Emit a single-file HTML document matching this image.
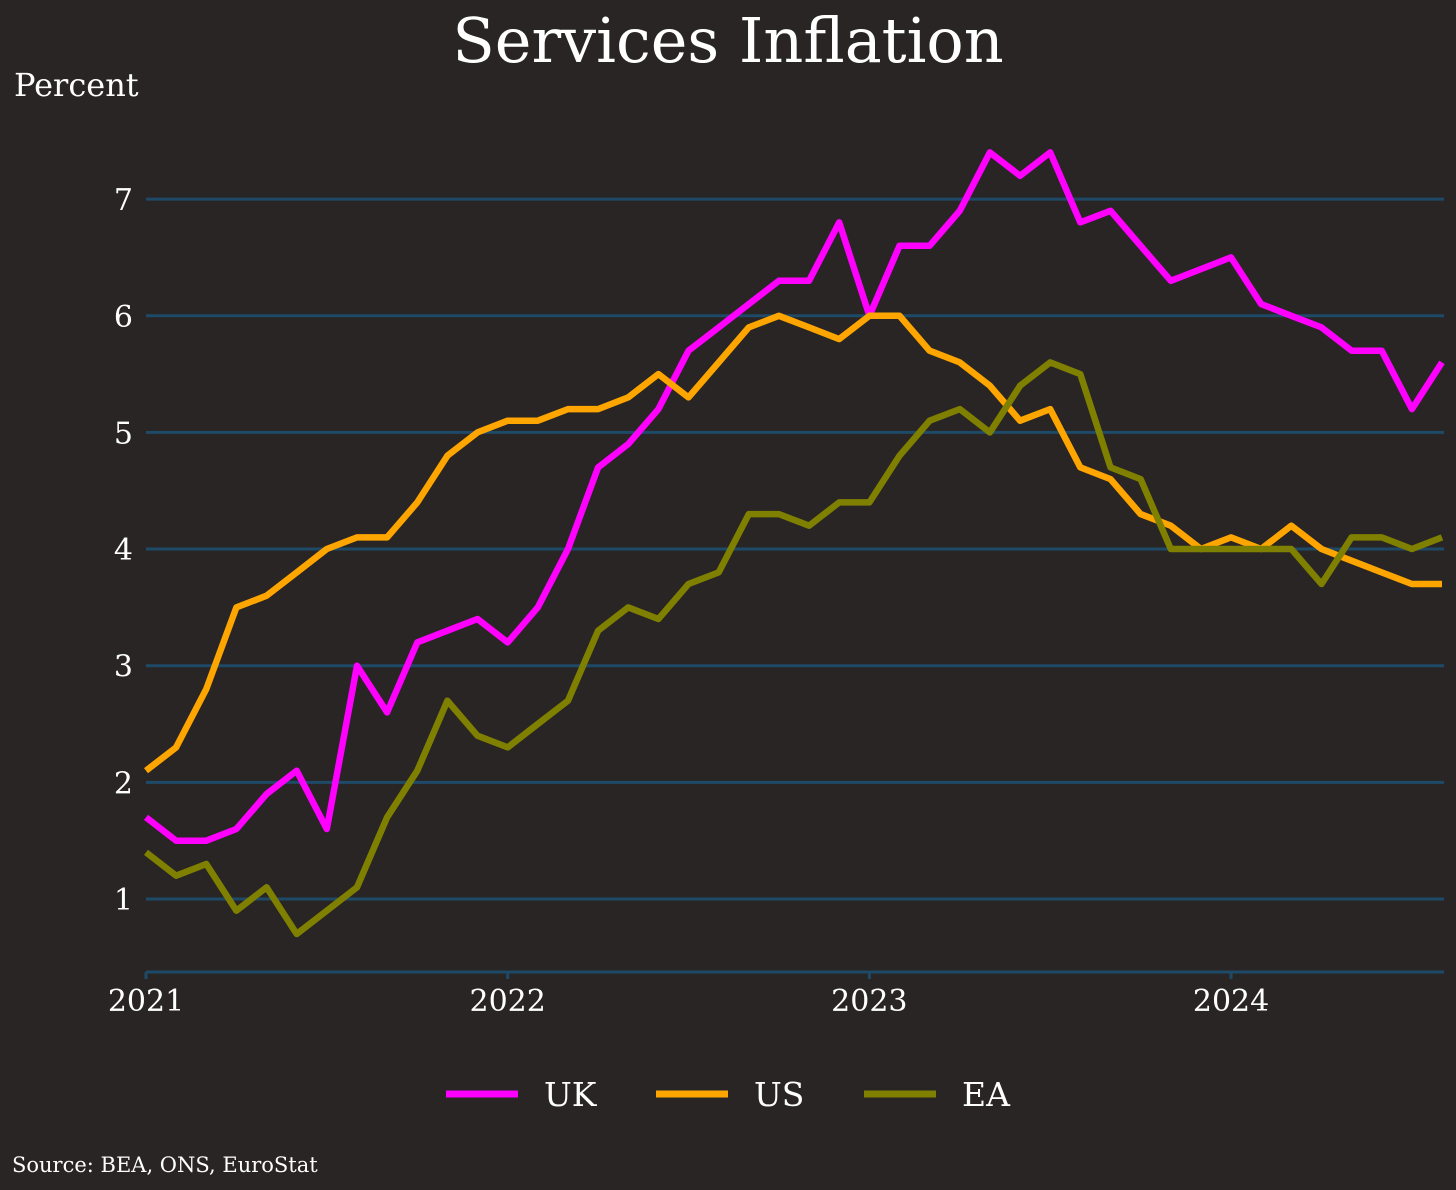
<!DOCTYPE html>
<html><head><meta charset="utf-8"><style>
html,body{margin:0;padding:0;background:#282524;}
svg{display:block;font-family:"DejaVu Serif","Liberation Serif",serif;}
</style></head><body>
<svg width="1456" height="1190" viewBox="0 0 1456 1190">
<rect width="1456" height="1190" fill="#282524"/>
<text x="728" y="62" text-anchor="middle" fill="#fff" font-size="62">Services Inflation</text>
<text x="14" y="96" fill="#fff" font-size="32">Percent</text>
<g id="grid"></g><g id="xaxis"></g><g id="lines"></g>
<g id="legend"></g>
<text x="12" y="1172" fill="#fff" font-size="21">Source: BEA, ONS, EuroStat</text>
</svg>
<script>
const yTicks=[1,2,3,4,5,6,7];
const xTickLabels=["2021","2022","2023","2024"];
const seriesNames=["UK","US","EA"];
const uk=[1.7,1.5,1.5,1.6,1.9,2.1,1.6,3.0,2.6,3.2,3.3,3.4,3.2,3.5,4.0,4.7,4.9,5.2,5.7,5.9,6.1,6.3,6.3,6.8,6.0,6.6,6.6,6.9,7.4,7.2,7.4,6.8,6.9,6.6,6.3,6.4,6.5,6.1,6.0,5.9,5.7,5.7,5.2,5.6];
const us=[2.1,2.3,2.8,3.5,3.6,3.8,4.0,4.1,4.1,4.4,4.8,5.0,5.1,5.1,5.2,5.2,5.3,5.5,5.3,5.6,5.9,6.0,5.9,5.8,6.0,6.0,5.7,5.6,5.4,5.1,5.2,4.7,4.6,4.3,4.2,4.0,4.1,4.0,4.2,4.0,3.9,3.8,3.7,3.7];
const ea=[1.4,1.2,1.3,0.9,1.1,0.7,0.9,1.1,1.7,2.1,2.7,2.4,2.3,2.5,2.7,3.3,3.5,3.4,3.7,3.8,4.3,4.3,4.2,4.4,4.4,4.8,5.1,5.2,5.0,5.4,5.6,5.5,4.7,4.6,4.0,4.0,4.0,4.0,4.0,3.7,4.1,4.1,4.0,4.1];
const colors=["#ff00ff","#ffa500","#808000"];
const NS="http://www.w3.org/2000/svg";
const x0=146,pxPerMonth=30.14,X0=146,X1=1444,yBase=972;
function xs(i){return x0+i*pxPerMonth;}
function ys(v){return 899-(v-1)*116.65;}
function mk(t,a,p){const e=document.createElementNS(NS,t);for(const k in a)e.setAttribute(k,a[k]);p.appendChild(e);return e;}
const grid=document.getElementById('grid');
yTicks.forEach(v=>{
  const l=mk('line',{x1:X0,x2:X1,y1:ys(v),y2:ys(v),stroke:'#1e4a68','stroke-width':3},grid);
  
  
  const t=mk('text',{x:133,y:ys(v)+11,'text-anchor':'end',fill:'#fff','font-size':30},grid);
  t.textContent=v;
  
  
});
const xa=document.getElementById('xaxis');
const base=mk('line',{x1:X0,x2:X1,y1:yBase,y2:yBase,stroke:'#1e4a68','stroke-width':3},xa);


xTickLabels.forEach((s,k)=>{
  const x=xs(k*12);
  const tk=mk('line',{x1:x,x2:x,y1:yBase,y2:yBase+7,stroke:'#1e4a68','stroke-width':3},xa);
  
  
  const t=mk('text',{x:x,y:1011,'text-anchor':'middle',fill:'#fff','font-size':30},xa);
  t.textContent=s;
  
  
});
const lg=document.getElementById('lines');
[uk,us,ea].forEach((d,k)=>{
  const p=mk('polyline',{points:d.map((v,i)=>xs(i).toFixed(1)+','+ys(v).toFixed(1)).join(' '),fill:'none',stroke:colors[k],'stroke-width':6.5,'stroke-linejoin':'round'},lg);
  
  
});
const leg=document.getElementById('legend');
const legX=[446,656,864];
seriesNames.forEach((n,k)=>{
  const g=mk('g',{},leg);
  
  
  mk('line',{x1:legX[k],x2:legX[k]+72,y1:1094,y2:1094,stroke:colors[k],'stroke-width':7},g);
  const t=mk('text',{x:legX[k]+98,y:1106,fill:'#fff','font-size':33},g);
  t.textContent=n;
});
</script>
</body></html>
